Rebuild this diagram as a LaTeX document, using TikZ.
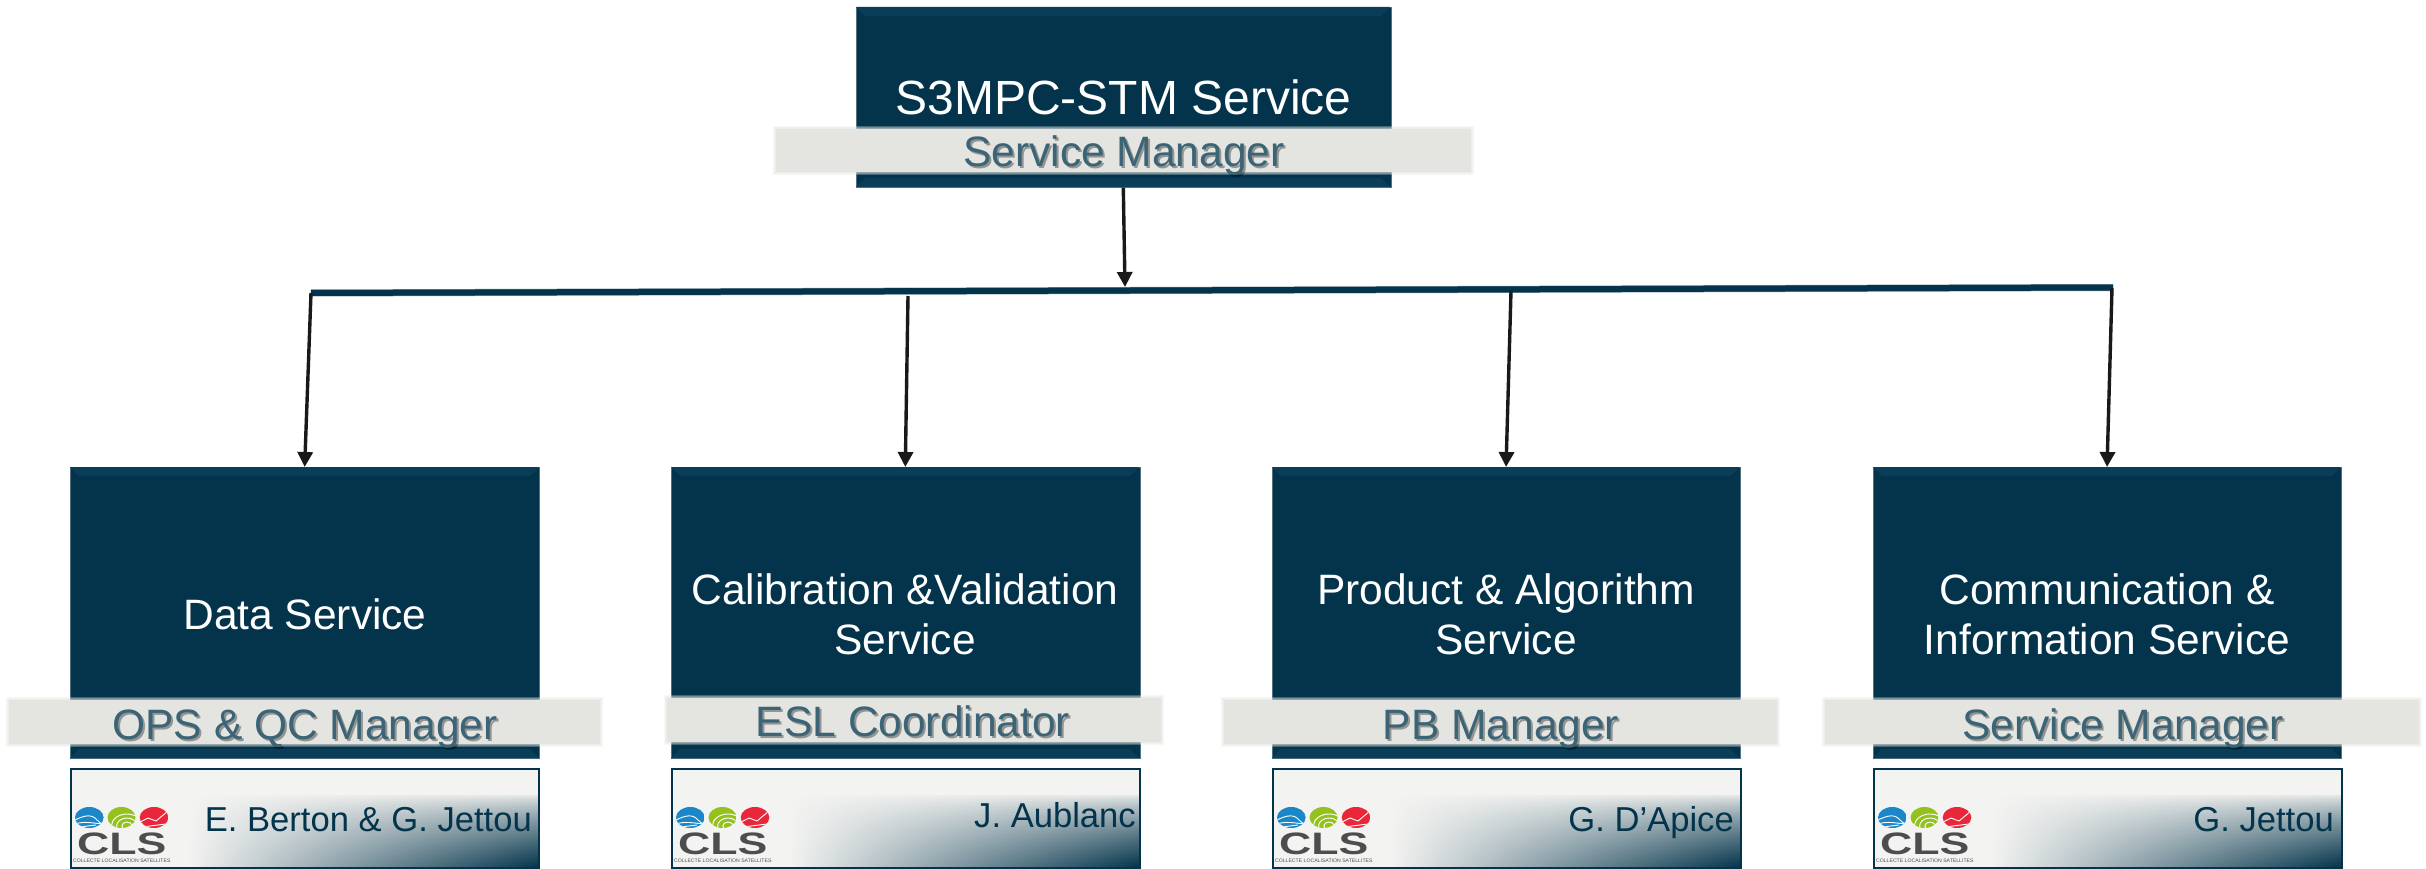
\documentclass[tikz,border=0pt]{standalone}
\usepackage{fontspec}
\setmainfont{Liberation Sans}
\usetikzlibrary{arrows.meta}
\definecolor{navy}{HTML}{03344B}
\definecolor{bevelc}{HTML}{0A3E58}
\definecolor{bandc}{HTML}{E4E5E1}
\definecolor{bandtxt}{HTML}{3B6476}
\definecolor{lightc}{HTML}{F3F3F1}
\definecolor{clsgray}{HTML}{4D4D4F}
\definecolor{clsblue}{HTML}{1B87C9}
\definecolor{clsgreen}{HTML}{95C11F}
\definecolor{clsred}{HTML}{E8273A}
\tikzset{
  x=1pt,y=-1pt,
  navybox/.style={fill=navy,draw=navy!70!white,line width=.6pt,inner sep=0pt,anchor=north west},
  whitetxt/.style={text=white,font=\fontsize{42.5}{50}\selectfont,align=center,inner sep=0pt},
  mgrtxt/.style={text=bandtxt,font=\fontsize{42.5}{43}\selectfont,inner sep=0pt,anchor=base},
  mgrshadow/.style={text=black,opacity=.35,font=\fontsize{42.5}{43}\selectfont,inner sep=0pt,anchor=base},
  nametxt/.style={text=navy,font=\fontsize{34.6}{38}\selectfont,inner sep=0pt,anchor=base east},
  namebox/.style={draw=navy,line width=2pt,inner sep=0pt,anchor=north west,minimum width=468pt,minimum height=99pt},
  flow/.style={draw=black!90,line width=3.4pt,-{Triangle[length=15pt,width=15pt]}},
  barline/.style={draw=navy,line width=6pt},
  barhalo/.style={draw=navy!55!white,line width=7pt},
}
% soft band: x1 y1 x2 y2
\newcommand\softband[4]{%
  \foreach \e in {3,2,1}{\fill[bandc,opacity=.3] (#1-\e,#2-\e) rectangle (#3+\e,#4+\e);}%
  \fill[bandc] (#1,#2) rectangle (#3,#4);}
% bevel: x1 y1 x2 y2
\newcommand\bevel[4]{%
  \fill[bevelc] (#1,#2) -- (#3,#2) -- (#3-9,#2+9) -- (#1+9,#2+9) -- cycle;
  \fill[bevelc] (#1,#4) -- (#3,#4) -- (#3-9,#4-9) -- (#1+9,#4-9) -- cycle;}
% name box gradient; #1 = left x
\newcommand\namefill[1]{%
  \fill[lightc] (#1,768) rectangle (#1+468,869);
  \foreach \k in {0,...,36}{%
    \pgfmathsetmacro\vv{100*((\k+1)/37)^0.75}%
    \shade[left color=lightc,right color=navy!\vv!lightc,shading angle=90]
      (#1+118,795+2*\k) rectangle (#1+468,797.6+2*\k);}}
\newcommand\clslogo[1]{%
  \begin{scope}[shift={(#1,0)}]
    \begin{scope}
      \clip (19.3,817.5) ellipse [x radius=14.3,y radius=10.5];
      \fill[clsblue] (5,807) rectangle (34,828);
      \draw[white,line width=.9pt] (5,820) .. controls (15,815) and (22,814) .. (27,820) -- (34,826)
        (5,824) .. controls (14,821) and (22,823) .. (33,824) (10,827) -- (26,825);
    \end{scope}
    \begin{scope}
      \clip (51.5,817.5) ellipse [x radius=14,y radius=10.5];
      \fill[clsgreen] (37,807) rectangle (66,828);
      \foreach \r in {4,8,12}{\draw[white,line width=.9pt] (57,826) ellipse [x radius=\r*1.3,y radius=\r];}
    \end{scope}
    \begin{scope}
      \clip (84,817.5) ellipse [x radius=14.3,y radius=10.5];
      \fill[clsred] (69,807) rectangle (99,828);
      \draw[white,line width=.9pt] (70,822) -- (78,818) -- (86,821) -- (98,811) (72,827) -- (96,824);
    \end{scope}
    \node[inner sep=0pt,text=clsgray,font=\bfseries\fontsize{31}{31}\selectfont,xscale=1.44] at (51.8,843.5) {CLS};
    \node[inner sep=0pt,text=clsgray,font=\fontsize{5}{5}\selectfont,xscale=1.03] at (51.8,860.5) {COLLECTE LOCALISATION SATELLITES};
  \end{scope}}
\begin{document}
\begin{tikzpicture}
\useasboundingbox (0,0) rectangle (2426,869);
% boxes
\node[navybox,minimum width=535pt,minimum height=180pt] (top) at (855.5,7) {};
\node[navybox,minimum width=469.5pt,minimum height=291pt] (b1) at (69.6,467) {};
\node[navybox,minimum width=469pt,minimum height=291pt] (b2) at (670.5,467) {};
\node[navybox,minimum width=468.5pt,minimum height=291pt] (b3) at (1271.5,467) {};
\node[navybox,minimum width=468.5pt,minimum height=291pt] (b4) at (1872.5,467) {};
\bevel{856}{7}{1390}{187}
\bevel{70}{467}{539}{758}
\bevel{671}{467}{1139}{758}
\bevel{1272}{467}{1739.5}{758}
\bevel{1873}{467}{2340.5}{758}
% bar
\coordinate (barL) at (311,293);
\coordinate (barR) at (2113,287.5);
\coordinate (hub) at (1125,287);
\coordinate (t1) at (311,293);
\coordinate (t2) at (908,296);
\coordinate (t3) at (1511,291);
\coordinate (t4) at (2112,288);
\draw[barhalo] (barL) -- (barR);
\draw[barline] (barL) -- (barR);
% arrows
\draw[flow] (top.south) -- (hub);
\draw[flow] (t1) -- (b1.north);
\draw[flow] (t2) -- (b2.north);
\draw[flow] (t3) -- (b3.north);
\draw[flow] (t4) -- (b4.north);
% bands
\softband{776}{129}{1471}{172}
\softband{9}{700}{600}{744}
\softband{667}{698}{1161}{742}
\softband{1224}{700}{1777}{744}
\softband{1825}{700}{2419}{744}
% box titles
\node[whitetxt,font=\fontsize{48}{50}\selectfont,anchor=base] (t0txt) at (1123.5,115) {S3MPC-STM Service};
\node[whitetxt] (b1txt) at (305,614) {Data Service};
\node[whitetxt] (b2txt) at (905,614) {Calibration \&Validation\\[0pt]Service};
\node[whitetxt] (b3txt) at (1506,614) {Product \& Algorithm\\[0pt]Service};
\node[whitetxt] (b4txt) at (2107,614) {Communication \&\\[0pt]Information Service};
% manager labels
\node[mgrshadow] (s0) at (1126,169) {Service Manager};
\node[mgrtxt] (m0) at (1124,167) {Service Manager};
\node[mgrshadow] (s1) at (307,741) {OPS \& QC Manager};
\node[mgrtxt] (m1) at (305,739) {OPS \& QC Manager};
\node[mgrshadow] (s2) at (915,738) {ESL Coordinator};
\node[mgrtxt] (m2) at (913,736) {ESL Coordinator};
\node[mgrshadow] (s3) at (1503,741) {PB Manager};
\node[mgrtxt] (m3) at (1501,739) {PB Manager};
\node[mgrshadow] (s4) at (2125,741) {Service Manager};
\node[mgrtxt] (m4) at (2123,739) {Service Manager};
% name boxes
\namefill{70}\namefill{671}\namefill{1272}\namefill{1873}
\node[namebox] (n1) at (70,768) {};
\node[namebox] (n2) at (671,768) {};
\node[namebox] (n3) at (1272,768) {};
\node[namebox] (n4) at (1873,768) {};
\clslogo{70}\clslogo{671}\clslogo{1272}\clslogo{1873}
\node[nametxt] (p1) at (532,831) {E. Berton \& G. Jettou};
\node[nametxt] (p2) at (1136,827) {J. Aublanc};
\node[nametxt] (p3) at (1734,831) {G. D’Apice};
\node[nametxt] (p4) at (2334,831) {G. Jettou};
\end{tikzpicture}
\end{document}
